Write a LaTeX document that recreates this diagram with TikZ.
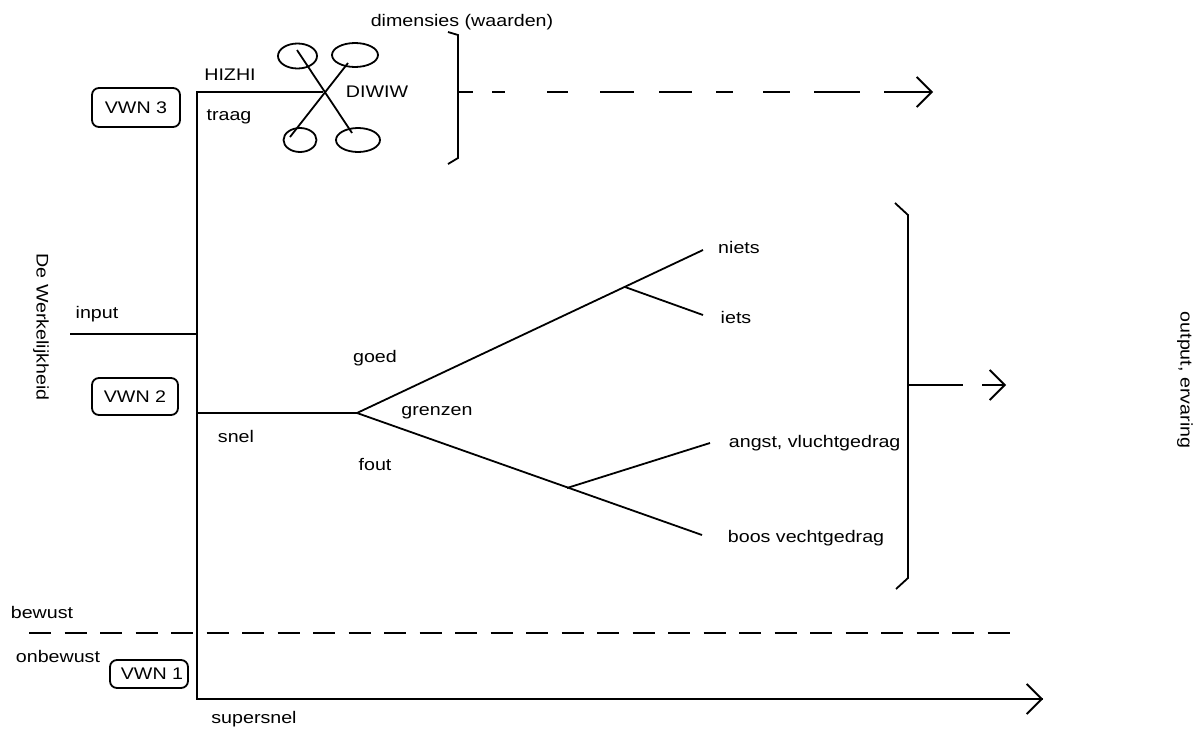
\documentclass[tikz,border=0pt]{standalone}
\usepackage{fontspec}
\setmainfont[FakeStretch=1.17]{Liberation Sans}
\usetikzlibrary{shapes.geometric,arrows.meta}
\begin{document}
\begin{tikzpicture}[x=1pt,y=-1pt,line width=1.8pt,
  lbl/.style={inner sep=0pt,font=\fontsize{16.8}{20}\selectfont},
  vwn/.style={draw,rounded corners=7pt,inner sep=0pt,font=\fontsize{16.8}{20}\selectfont},
  ell/.style={draw,ellipse,inner sep=0pt},
  barb/.style={-{Straight Barb[length=15pt,width=30pt]}},
  bracketline/.style={line join=miter},
]
\useasboundingbox (0,0) rectangle (1203,731);

% ---- coordinates ----
\coordinate (top) at (197,92);
\coordinate (bot) at (197,699);
\coordinate (X) at (323,92);
\coordinate (inL) at (70,334);
\coordinate (inR) at (197,334);
\coordinate (snL) at (197,413);
\coordinate (fork) at (357,413);
\coordinate (nietsE) at (703,250);
\coordinate (b1) at (625,287);
\coordinate (ietsE) at (703,315);
\coordinate (boosE) at (702,535);
\coordinate (b2) at (567,488);
\coordinate (angstE) at (710,443);
\coordinate (supE) at (1043,699);

% ---- boxes ----
\node[vwn,minimum width=88pt,minimum height=39pt] (vwn3) at (136,107.5) {VWN 3};
\node[vwn,minimum width=86pt,minimum height=37pt] (vwn2) at (135,396.5) {VWN 2};
\node[vwn,minimum width=78pt,minimum height=28pt] (vwn1) at (149,674) {\hspace*{6pt}VWN 1};

% ---- ellipses ----
\node[ell,minimum width=39pt,minimum height=25pt] (e1) at (297.5,56) {};
\node[ell,minimum width=46pt,minimum height=24pt] (e2) at (355,55) {};
\node[ell,minimum width=33pt,minimum height=24pt] (e3) at (300,140) {};
\node[ell,minimum width=44pt,minimum height=24pt] (e4) at (358,140) {};
\coordinate (x1a) at (297,50);
\coordinate (x1b) at (352,133);
\coordinate (x2a) at (348,63);
\coordinate (x2b) at (290,137);
\draw (x1a) -- (x1b);
\draw (x2a) -- (x2b);

% ---- main lines ----
\draw (X) -- (top) -- (bot) -- (supE);
\draw[barb] (bot) -- (supE);
\draw (inL) -- (inR);
\draw (snL) -- (fork);
\draw (fork) -- (nietsE);
\draw (b1) -- (ietsE);
\draw (fork) -- (boosE);
\draw (b2) -- (angstE);

% ---- top bracket and dashed arrow ----
\coordinate (tb1) at (448,32);
\coordinate (tb2) at (458,35);
\coordinate (tb3) at (458,158);
\coordinate (tb4) at (448,164);
\coordinate (tbm) at (458,92);
\coordinate (tbE) at (933,92);
\draw[bracketline] (tb1) -- (tb2) -- (tb3) -- (tb4);
\draw[barb,dash pattern=on 15pt off 19pt on 13pt off 42pt on 21pt off 32pt on 34pt off 25pt on 33pt off 24pt on 17pt off 30pt on 27pt off 24pt on 46pt off 24pt on 60pt off 10pt] (tbm) -- (tbE);

% ---- big bracket and arrow ----
\coordinate (bb1) at (895,203);
\coordinate (bb2) at (908,215);
\coordinate (bb3) at (908,578);
\coordinate (bb4) at (896,589);
\coordinate (bbm) at (908,385);
\coordinate (bbm2) at (963,385);
\coordinate (ba1) at (982,385);
\coordinate (ba2) at (1006,385);
\draw[bracketline] (bb1) -- (bb2) -- (bb3) -- (bb4);
\draw (bbm) -- (bbm2);
\draw[barb] (ba1) -- (ba2);

% ---- bewust / onbewust dashed line ----
\coordinate (dL) at (29,633);
\coordinate (dR) at (1010,633);
\draw[dash pattern=on 22pt off 13.5pt] (dL) -- (dR);

% ---- labels ----
\node[lbl,anchor=base] (dim) at (462,26) {dimensies (waarden)};
\node[lbl,anchor=base] (hizhi) at (230,80) {HIZHI};
\node[lbl,anchor=base] (traag) at (229,120) {traag};
\node[lbl,anchor=base] (diwiw) at (377,97) {DIWIW};
\node[lbl,anchor=base] (input) at (97,318) {input};
\node[lbl,rotate=-90] (werk) at (41,327) {De Werkelijkheid};
\node[lbl,anchor=base] (goed) at (375,362) {goed};
\node[lbl,anchor=base] (grenzen) at (437,415) {grenzen};
\node[lbl,anchor=base] (snel) at (236,442) {snel};
\node[lbl,anchor=base] (fout) at (375,470) {fout};
\node[lbl,anchor=base] (niets) at (739,253) {niets};
\node[lbl,anchor=base] (iets) at (736,323) {iets};
\node[lbl,anchor=base west] (angst) at (728,447) {angst, vluchtgedrag};
\node[lbl,anchor=base west] (boos) at (727,542) {boos vechtgedrag};
\node[lbl,rotate=-90] (output) at (1185,380) {output, ervaring};
\node[lbl,anchor=base] (bewust) at (42,618) {bewust};
\node[lbl,anchor=base west] (onbewust) at (15,662) {onbewust};
\node[lbl,anchor=base] (supersnel) at (254,723) {supersnel};
\end{tikzpicture}
\end{document}
